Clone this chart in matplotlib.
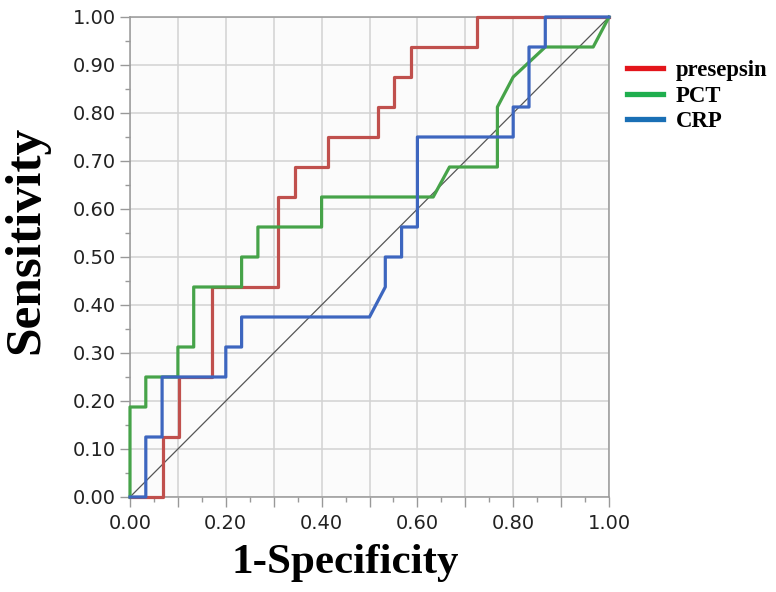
import matplotlib
matplotlib.use('Agg')
import matplotlib.pyplot as plt
from matplotlib.lines import Line2D
from matplotlib.ticker import FixedLocator

# ROC curve points (1-specificity, sensitivity)
presepsin_x = [0, 0.069, 0.069, 0.103, 0.103, 0.172, 0.172, 0.310, 0.310, 0.345, 0.345,
               0.414, 0.414, 0.517, 0.517, 0.552, 0.552, 0.586, 0.586, 0.724, 0.724, 1.0]
presepsin_y = [0, 0, 0.125, 0.125, 0.25, 0.25, 0.4375, 0.4375, 0.625, 0.625, 0.6875,
               0.6875, 0.75, 0.75, 0.8125, 0.8125, 0.875, 0.875, 0.9375, 0.9375, 1.0, 1.0]

pct_x = [0, 0, 0.033, 0.033, 0.1, 0.1, 0.133, 0.133, 0.233, 0.233, 0.267, 0.267,
         0.4, 0.4, 0.633, 0.667, 0.767, 0.767, 0.8, 0.867, 0.967, 1.0]
pct_y = [0, 0.1875, 0.1875, 0.25, 0.25, 0.3125, 0.3125, 0.4375, 0.4375, 0.5, 0.5, 0.5625,
         0.5625, 0.625, 0.625, 0.6875, 0.6875, 0.8125, 0.875, 0.9375, 0.9375, 1.0]

crp_x = [0, 0.033, 0.033, 0.067, 0.067, 0.2, 0.2, 0.233, 0.233, 0.5, 0.533, 0.533,
         0.567, 0.567, 0.6, 0.6, 0.8, 0.8, 0.833, 0.833, 0.867, 0.867, 1.0]
crp_y = [0, 0, 0.125, 0.125, 0.25, 0.25, 0.3125, 0.3125, 0.375, 0.375, 0.4375, 0.5,
         0.5, 0.5625, 0.5625, 0.75, 0.75, 0.8125, 0.8125, 0.9375, 0.9375, 1.0, 1.0]

names = ['presepsin', 'PCT', 'CRP']
major = [0.0, 0.1, 0.2, 0.3, 0.4, 0.5, 0.6, 0.7, 0.8, 0.9, 1.0]
minor = [0.05, 0.15, 0.25, 0.35, 0.45, 0.55, 0.65, 0.75, 0.85, 0.95]
x_labels = ['0.00', '', '0.20', '', '0.40', '', '0.60', '', '0.80', '', '1.00']
y_labels = ['0.00', '0.10', '0.20', '0.30', '0.40', '0.50', '0.60', '0.70', '0.80', '0.90', '1.00']

fig = plt.figure(figsize=(7.76, 5.92), dpi=100)
ax = fig.add_axes([130/776, 95/592, 479/776, 480/592])
ax.set_facecolor('#fbfbfb')

ax.plot([0, 1], [0, 1], color='#555555', lw=0.9, zorder=3)
ax.plot(presepsin_x, presepsin_y, color='#c0504d', lw=2.3, clip_on=False, zorder=4)
ax.plot(pct_x, pct_y, color='#46a349', lw=2.3, clip_on=False, zorder=5)
ax.plot(crp_x, crp_y, color='#3d66bf', lw=2.3, clip_on=False, zorder=6)

ax.set_xlim(0, 1)
ax.set_ylim(0, 1)
ax.xaxis.set_major_locator(FixedLocator(major))
ax.yaxis.set_major_locator(FixedLocator(major))
ax.xaxis.set_minor_locator(FixedLocator(minor))
ax.yaxis.set_minor_locator(FixedLocator(minor))
ax.set_xticklabels(x_labels)
ax.set_yticklabels(y_labels)
ax.grid(True, which='major', color='#d2d2d2', lw=1.1)
ax.tick_params(which='major', length=7, width=1, color='#999999', labelsize=14,
               labelcolor='#222222')
ax.tick_params(which='minor', length=3.5, width=1, color='#999999')
ax.tick_params(axis='x', pad=5)
ax.tick_params(axis='y', pad=3)
for s in ax.spines.values():
    s.set_color('#999999')
    s.set_linewidth(1.1)

fig.text(26/776, 1 - 240/592, 'Sensitivity', rotation=90, ha='center', va='center',
         family='Liberation Serif', weight='bold', fontsize=37)
fig.text(345/776, 1 - 563/592, '1-Specificity', ha='center', va='center',
         family='Liberation Serif', weight='bold', fontsize=31)

handles = [Line2D([], [], color=c, lw=3.8) for c in ['#e3151b', '#1fae4e', '#1a6fb5']]
fig.legend(handles, names, loc='upper left', bbox_to_anchor=(627/776, 1 - 60/592),
           frameon=False, handlelength=1.58, handletextpad=0.55, labelspacing=0.2,
           borderaxespad=0, borderpad=0.0,
           prop={'family': 'Liberation Serif', 'weight': 'bold', 'size': 16.4})

fig.savefig('out.png', dpi=100)
